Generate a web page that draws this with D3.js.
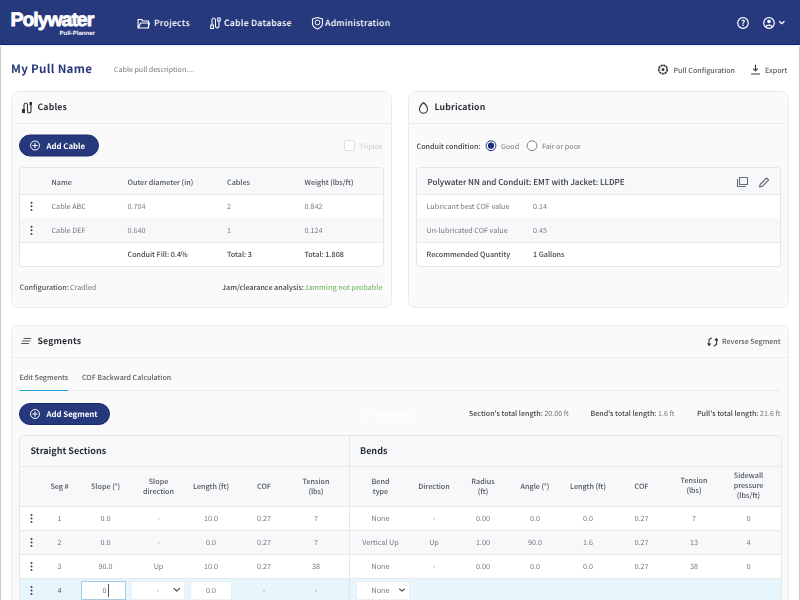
<!DOCTYPE html>
<html>
<head>
<meta charset="utf-8">
<script src="https://d3js.org/d3.v7.min.js"></script>
<style>
  html, body { margin: 0; padding: 0; background: #fff; overflow: hidden; }
  svg { display: block; font-family: "Noto Sans CJK SC", "Noto Sans", sans-serif; text-rendering: geometricPrecision; opacity: 0.999; }
</style>
</head>
<body>
<svg id="page" width="800" height="600"></svg>
<script>
// data
const navItems = ['Projects', 'Cable Database', 'Administration'];
const cableHeaders = ['Name', 'Outer diameter (in)', 'Cables', 'Weight (lbs/ft)'];
const cableRows = [
  ['Cable ABC', '0.704', '2', '0.842'],
  ['Cable DEF', '0.640', '1', '0.124']
];
const cableTotals = ['', 'Conduit Fill: 0.4%', 'Total: 3', 'Total: 1.808'];
const lubeRows = [
  ['Lubricant best COF value', '0.14'],
  ['Un-lubricated COF value', '0.45'],
  ['Recommended Quantity', '1 Gallons']
];
const lengthTotals = [
  ["Section's total length:", '20.00 ft'],
  ["Bend's total length:", '1.6 ft'],
  ["Pull's total length:", '21.6 ft']
];
const segHeaders = [
  ['Seg #'], ['Slope (°)'], ['Slope', 'direction'], ['Length (ft)'], ['COF'], ['Tension', '(lbs)'],
  ['Bend', 'type'], ['Direction'], ['Radius', '(ft)'], ['Angle (°)'], ['Length (ft)'], ['COF'],
  ['Tension', '(lbs)'], ['Sidewall', 'pressure', '(lbs/ft)']
];
const segRows = [
  ['1', '0.0', '-', '10.0', '0.27', '7', 'None', '-', '0.00', '0.0', '0.0', '0.27', '7', '0'],
  ['2', '0.0', '-', '0.0', '0.27', '7', 'Vertical Up', 'Up', '1.00', '90.0', '1.6', '0.27', '13', '4'],
  ['3', '90.0', 'Up', '10.0', '0.27', '38', 'None', '-', '0.00', '0.0', '0.0', '0.27', '38', '0']
];

const NAVY = '#27397d', GREY = '#74787e', LINE = '#e6e8ec', STRIPE = '#f7f8fa';
const svg = d3.select('#page');

function label(x, y, str, o = {}) {
  return svg.append('text').attr('x', x).attr('y', y).text(str)
    .attr('font-size', o.size || 7.2)
    .attr('font-weight', o.weight || 400)
    .attr('fill', o.fill || GREY)
    .attr('text-anchor', o.anchor || 'start')
    .attr('letter-spacing', o.spacing || 0);
}
function box(x, y, w, h, fill, o = {}) {
  return svg.append('rect').attr('x', x).attr('y', y).attr('width', w).attr('height', h)
    .attr('rx', o.r || 0).attr('fill', fill)
    .attr('stroke', o.stroke || 'none').attr('stroke-width', o.sw || 1);
}
function hline(x1, x2, y, color = LINE) {
  svg.append('line').attr('x1', x1).attr('x2', x2).attr('y1', y).attr('y2', y).attr('stroke', color);
}
function vline(x, y1, y2, color = LINE) {
  svg.append('line').attr('x1', x).attr('x2', x).attr('y1', y1).attr('y2', y2).attr('stroke', color);
}
function icon(x, y, d, color, o = {}) {
  return svg.append('path').attr('transform', `translate(${x},${y})`).attr('d', d)
    .attr('fill', o.fill || 'none').attr('stroke', color).attr('stroke-width', o.sw || 1.1)
    .attr('stroke-linecap', 'round').attr('stroke-linejoin', 'round');
}
function kebab(x, y) {
  svg.append('g').selectAll('circle').data([-3.6, 0, 3.6]).join('circle')
    .attr('cx', x).attr('cy', d => y + d).attr('r', 1).attr('fill', '#3a3f47');
}
function pillButton(x, y, w, str) {
  box(x + 0.5, y + 0.5, w - 1, 21, NAVY, { r: 10.5, stroke: '#1a2a6c' });
  svg.append('circle').attr('cx', x + 16).attr('cy', y + 11).attr('r', 4.5)
    .attr('fill', 'none').attr('stroke', '#fff').attr('stroke-width', 1);
  icon(x + 16, y + 11, 'M-2.2 0H2.2M0 -2.2V2.2', '#fff', { sw: 1 });
  label(x + 27.5, y + 14.2, str, { fill: '#fff', weight: 700, size: 7.8 });
}

// top bar
box(0, 0, 800, 44, NAVY);
hline(0, 800, 44.5, '#12218a');
box(0, 45, 800, 2, '#f4f5f8');
vline(0.5, 47, 600, '#c9c9c9');
vline(799.5, 47, 600, '#c9c9c9');

label(10.5, 26, 'Polywater', { fill: '#fff', size: 19.5, weight: 700, spacing: -1.05 })
  .attr('font-family', '"Liberation Sans"').attr('stroke', '#fff').attr('stroke-width', 0.8);
label(95, 35.4, 'Pull-Planner', { fill: '#fff', size: 6.1, weight: 700, anchor: 'end' })
  .attr('font-family', '"Liberation Sans"');

const navX = d3.scaleOrdinal().domain(navItems).range([154, 224, 325]);
navItems.forEach(d => label(navX(d), 26.3, d, { fill: '#fff', size: 8.6, weight: 500, spacing: 0.3 }));
icon(138, 18, 'M0 1.5H3.5L5 3H10.5V10H0ZM0.5 10L2.5 5H11.5L10 10', '#fff');
icon(210, 17, 'M2 8V3Q2 1 3.7 1T5.5 3V9Q5.5 11 7.2 11T9 9V4M0.7 8H3.4V11.5H0.7ZM7.7 1H10.2V4H7.7Z', '#fff');
icon(312, 17, 'M5.5 0.5L10.5 2V6.5Q10.5 10 5.5 12Q0.5 10 0.5 6.5V2Z', '#fff');
svg.append('circle').attr('cx', 317.5).attr('cy', 22.5).attr('r', 2.4).attr('fill', 'none').attr('stroke', '#fff');
svg.append('circle').attr('cx', 743).attr('cy', 23).attr('r', 5.3).attr('fill', 'none').attr('stroke', '#fff').attr('stroke-width', 1.2);
label(743, 26, '?', { fill: '#fff', size: 8, weight: 700, anchor: 'middle' });
svg.append('circle').attr('cx', 769).attr('cy', 23).attr('r', 5.3).attr('fill', 'none').attr('stroke', '#fff').attr('stroke-width', 1.2);
svg.append('circle').attr('cx', 769).attr('cy', 21.5).attr('r', 1.8).attr('fill', '#fff');
icon(766, 25, 'M0 1.2Q3 -1 6 1.2', '#fff', { sw: 1.2 });
icon(779.5, 21.5, 'M0 0L2.3 2.2L4.6 0', '#fff', { sw: 1.2 });

// page title row
label(11, 73, 'My Pull Name', { fill: NAVY, size: 11.6, weight: 700, spacing: 0.3 });
label(114, 72, 'Cable pull description....', { size: 7.1 });
label(673.5, 72.5, 'Pull Configuration', { size: 7.1, weight: 500, fill: '#5a5f66' });
label(765, 72.5, 'Export', { size: 7.1, weight: 500, fill: '#5a5f66' });
svg.append('circle').attr('cx', 663).attr('cy', 69.5).attr('r', 4.2).attr('fill', 'none').attr('stroke', '#33373d').attr('stroke-width', 1.7).attr('stroke-dasharray', '2.2 0.6');
svg.append('circle').attr('cx', 663).attr('cy', 69.5).attr('r', 1.5).attr('fill', '#33373d');
icon(751, 65, 'M4.5 0V5.5M2.5 3.8L4.5 6L6.5 3.8M0.5 9H8.5', '#33373d');

// panels
function panel(x, y, w, h, title, ix) {
  box(x + 0.5, y + 0.5, w - 1, h - 1, '#fafafb', { r: 7, stroke: '#e9ebef' });
  hline(x + 1, x + w - 1, y + 32.5, '#eceef2');
  label(ix, y + 19.3, title, { size: 8.7, weight: 700, fill: '#2b2f36', spacing: 0.15 });
}
panel(11, 91, 381, 217, 'Cables', 37.5);
panel(408, 91, 381, 217, 'Lubrication', 434.5);
panel(11, 325, 778, 290, 'Segments', 37.5);
icon(22, 102, 'M2 8V3Q2 1 3.7 1T5.5 3V9Q5.5 11 7.2 11T9 9V4', '#2b2f36');
box(22, 109, 3, 4, '#2b2f36');
box(29.5, 102, 2.5, 3.5, '#2b2f36');
icon(419, 102, 'M4.5 0.5Q8.5 4 8.5 7.2A4 4 0 0 1 .5 7.2Q.5 4 4.5 .5Z', '#33373d');
icon(21, 338, 'M3 0.5H10M1.5 3H9M0.5 5.5H7.5', '#55595f');

// cables card
pillButton(19, 134.5, 80, 'Add Cable');
box(344.5, 140.5, 10, 10, '#fff', { r: 1.5, stroke: '#dcdde0' });
label(359.5, 148.5, 'Triplex', { fill: '#c9cbce' });

const cableX = d3.scaleOrdinal().domain(d3.range(4)).range([51.5, 127.5, 227, 304.5]);
const rowY = d3.scaleBand().domain([0, 1, 2]).range([194, 266]);

box(19.5, 167.5, 364, 99, '#fff', { r: 3, stroke: '#e4e6ea' });
box(20, 168, 363, 26, STRIPE);
hline(20, 383, 194.5);
cableHeaders.forEach((d, i) => label(cableX(i), 185, d, { fill: '#50555c', weight: 500 }));
cableRows.forEach((row, r) => {
  if (r === 1) box(20, rowY(r), 363, rowY.bandwidth(), STRIPE);
  hline(20, 383, rowY(r) + rowY.bandwidth() + 0.5);
  kebab(31.5, rowY(r) + 12.3);
  row.forEach((d, i) => label(cableX(i), rowY(r) + 15, d));
});
cableTotals.forEach((d, i) => label(cableX(i), rowY(2) + 14.8, d, { fill: '#42464d', weight: 500 }));

label(19.5, 289.5, 'Configuration:', { fill: '#50555c', weight: 500 });
label(70, 289.5, 'Cradled');
label(382.5, 289.5, 'Jamming not probable', { fill: '#7dbf6f', weight: 500, anchor: 'end' });
label(304, 289.5, 'Jam/clearance analysis:', { fill: '#42464d', weight: 500, anchor: 'end' });

// lubrication card
label(416.5, 148.5, 'Conduit condition:', { fill: '#42464d', weight: 500 });
svg.append('circle').attr('cx', 491).attr('cy', 145.7).attr('r', 4.9).attr('fill', '#fff').attr('stroke', '#1b2f7f');
svg.append('circle').attr('cx', 491).attr('cy', 145.7).attr('r', 3.1).attr('fill', '#1b2f7f');
label(501, 148.5, 'Good');
svg.append('circle').attr('cx', 532).attr('cy', 145.7).attr('r', 4.9).attr('fill', '#fff').attr('stroke', '#7b7f85');
label(542, 148.5, 'Fair or poor');

box(416.5, 167.5, 364, 99, '#fff', { r: 3, stroke: '#e4e6ea' });
box(417, 168, 363, 26, STRIPE);
hline(417, 780, 194.5);
label(427.5, 185, 'Polywater NN and Conduit: EMT with Jacket: LLDPE', { fill: '#33373d', size: 8.05, weight: 500 });
icon(737, 177, 'M2.5 0.5H10.5V7.5H2.5ZM0.5 2.5V9.5H8.5', '#666b71');
icon(759, 177, 'M0.5 10L1.2 7.5L7.5 1L9.7 3L3.3 9.4Z', '#666b71');
lubeRows.forEach((row, r) => {
  if (r === 1) box(417, rowY(r), 363, rowY.bandwidth(), STRIPE);
  if (r < 2) hline(417, 780, rowY(r) + rowY.bandwidth() + 0.5);
  const bold = r === 2;
  label(426.5, rowY(r) + 15, row[0], { fill: bold ? '#42464d' : GREY, weight: bold ? 500 : 400 });
  label(533, rowY(r) + 15, row[1], { fill: bold ? '#42464d' : GREY, weight: bold ? 500 : 400 });
});

// segments card
icon(708, 337, 'M3.5 1L1 2.5V8M0 6.5L1 8.5L2.5 6.8M6 9L8.5 7.5V2M9.5 3.5L8.5 1.5L7 3.2', '#33373d');
label(722, 344, 'Reverse Segment', { size: 7.1, fill: '#5a5f66', weight: 500 });
label(19.5, 380, 'Edit Segments', { size: 7.1, fill: '#5a5f66', weight: 500 });
label(82, 380, 'COF Backward Calculation', { size: 7.1, fill: '#5a5f66', weight: 500 });
hline(19, 781, 390.5, '#e8eaee');
hline(19.5, 68, 390.5, '#2aa3dc');

pillButton(19, 403, 91, 'Add Segment');
svg.append('circle').attr('cx', 364.5).attr('cy', 414).attr('r', 4).attr('fill', 'none').attr('stroke', '#fff');
label(376, 417, 'Add Bend', { fill: '#fff', weight: 700, size: 7.8 });

const totalX = d3.scaleOrdinal().domain(lengthTotals.map(d => d[0])).range([469, 590.5, 697]);
lengthTotals.forEach(d => {
  const t = label(totalX(d[0]), 416, d[0] + ' ', { size: 7.1, fill: '#42464d', weight: 500 });
  t.append('tspan').text(d[1]).attr('font-weight', 400).attr('fill', GREY);
});

// segments table
box(19.5, 435.5, 762, 175, '#fff', { r: 3, stroke: '#e4e6ea' });
box(20, 436, 761, 71, STRIPE);
hline(20, 781, 466.5);
hline(20, 781, 506.5);
label(30.5, 454.3, 'Straight Sections', { fill: '#2b2f36', size: 9, weight: 700 });
label(360, 454.3, 'Bends', { fill: '#2b2f36', size: 9, weight: 700 });

const segX = d3.scaleOrdinal().domain(d3.range(14))
  .range([59.5, 105.5, 158.5, 211, 264, 316, 380.5, 434, 483, 535, 588, 641.5, 694, 748.5]);
const segY = d3.scaleBand().domain([0, 1, 2, 3]).range([507, 603]);

segHeaders.forEach((lines, i) => {
  const y0 = 489 - (lines.length - 1) * 5 - (i >= 12 ? 0.6 : 0);
  lines.forEach((ln, k) => label(segX(i), y0 + k * 10, ln, { anchor: 'middle', fill: '#50555c', weight: 500 }));
});
segRows.forEach((row, r) => {
  if (r === 1) box(20, segY(r), 761, segY.bandwidth(), STRIPE);
  hline(20, 781, segY(r) + segY.bandwidth() - 0.5);
  kebab(31.5, segY(r) + 11.5);
  row.forEach((d, i) => label(segX(i), segY(r) + 14.2 - (i >= 12 ? 0.6 : 0), d, { anchor: 'middle' }));
});

// row being edited
box(20, segY(3), 761, 21, '#e6f6fc');
kebab(31.5, segY(3) + 11.5);
label(segX(0), segY(3) + 14.2, '4', { anchor: 'middle', fill: '#50555c' });
box(81.5, 581.5, 44, 18, '#fff', { stroke: '#a9cbe4' });
label(102.5, 593.3, '0', { fill: GREY });
vline(108.5, 584, 597, '#555');
box(131.5, 581.5, 53, 18, '#fff', { stroke: '#edf0f3' });
label(158, 593.3, '-', { anchor: 'middle' });
icon(174, 588.5, 'M0 0L2.8 2.6L5.6 0', '#4a4e55', { sw: 1.1 });
box(190.5, 581.5, 41, 18, '#fff', { stroke: '#edf0f3' });
label(211, 593.3, '0.0', { anchor: 'middle' });
label(segX(4), 593.3, '-', { anchor: 'middle' });
label(segX(5), 593.3, '-', { anchor: 'middle' });
box(356.5, 581.5, 53, 18, '#fff', { stroke: '#edf0f3' });
label(380.5, 593.3, 'None', { anchor: 'middle' });
icon(399.5, 589, 'M0 0L2.5 2.2L5 0', '#4a4e55', { sw: 1.1 });
vline(349.5, 436, 600, '#e4e6ea');
</script>
</body>
</html>
